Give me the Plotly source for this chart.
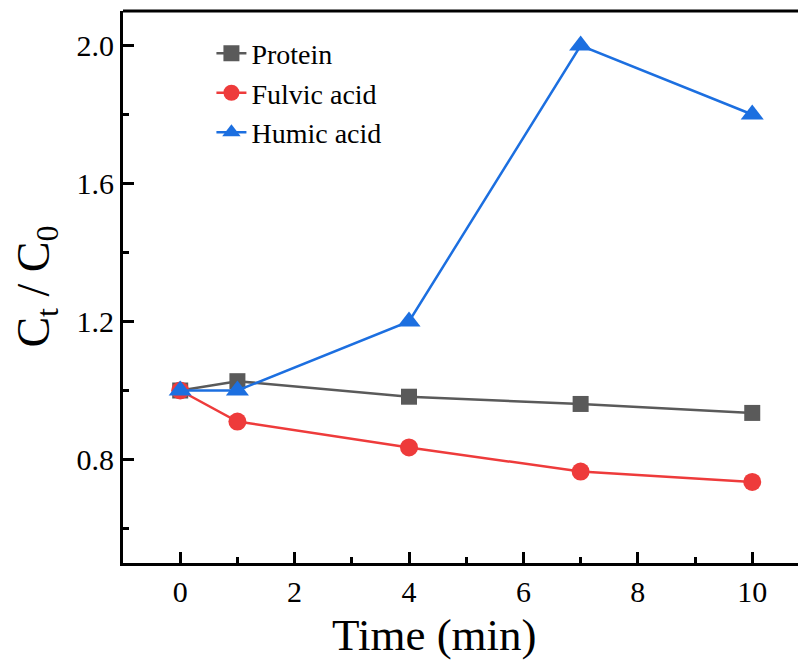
import plotly.graph_objects as go

# Sampling times (min)
time_min = [0, 1, 4, 7, 10]

# Normalised concentration Ct/C0 for each organic fraction
protein = [1.00, 1.027, 0.982, 0.961, 0.935]
fulvic_acid = [1.00, 0.910, 0.835, 0.765, 0.735]
humic_acid = [1.00, 1.00, 1.20, 2.00, 1.80]

series = [
    ("Protein", protein, "#5a5a5a", "square", 16),
    ("Fulvic acid", fulvic_acid, "#ee3b3b", "circle", 18),
    ("Humic acid", humic_acid, "#1c6fe0", "triangle-up", 20),
]

FONT = "Liberation Serif"

fig = go.Figure()
for name, vals, color, symbol, size in series:
    fig.add_trace(go.Scatter(
        x=time_min, y=vals, name=name, mode="lines+markers",
        line=dict(color=color, width=2.5),
        marker=dict(symbol=symbol, size=size, color=color, line=dict(width=0)),
    ))

fig.update_layout(
    width=798, height=661,
    margin=dict(l=123, r=0, t=11, b=98),
    paper_bgcolor="white", plot_bgcolor="white",
    font=dict(family=FONT, color="black", size=30),
    showlegend=True,
    legend=dict(
        x=0.131, y=0.968, xanchor="left", yanchor="top",
        font=dict(family=FONT, size=28, color="black"),
        bgcolor="rgba(0,0,0,0)", borderwidth=0,
        tracegroupgap=0, itemwidth=30,
    ),
    xaxis=dict(
        range=[-1, 10.8], showgrid=False, zeroline=False,
        showline=True, linecolor="black", linewidth=3, mirror=False,
        ticks="inside", ticklen=11, tickwidth=3, tickcolor="black",
        tick0=0, dtick=2,
        minor=dict(ticks="inside", ticklen=6, tickwidth=3, tickcolor="black", dtick=1, tick0=0, showgrid=False),
        tickfont=dict(family=FONT, size=30, color="black"),
    ),
    yaxis=dict(
        range=[0.5, 2.1], showgrid=False, zeroline=False,
        showline=True, linecolor="black", linewidth=3, mirror=False,
        ticks="inside", ticklen=11, tickwidth=3, tickcolor="black",
        tick0=0.8, dtick=0.4, tickformat=".1f",
        minor=dict(ticks="inside", ticklen=6, tickwidth=3, tickcolor="black", dtick=0.2, tick0=0.6, showgrid=False),
        tickfont=dict(family=FONT, size=30, color="black"),
    ),
)

# Top frame line (no ticks)
fig.add_shape(type="line", xref="paper", yref="paper", x0=0, x1=1, y0=1, y1=1,
              line=dict(color="black", width=3))

# Axis titles
fig.add_annotation(text="Time (min)", xref="paper", yref="paper",
                   x=(434 - 123) / 675, y=-0.130, xanchor="center", yanchor="middle",
                   showarrow=False, font=dict(family=FONT, size=45, color="black"))
fig.add_annotation(text="C<sub>t</sub> / C<sub>0</sub>", xref="paper", yref="paper",
                   x=-0.128, y=0.50, xanchor="center", yanchor="middle", textangle=-90,
                   showarrow=False, font=dict(family=FONT, size=46, color="black"))

fig.write_html("out.html")
